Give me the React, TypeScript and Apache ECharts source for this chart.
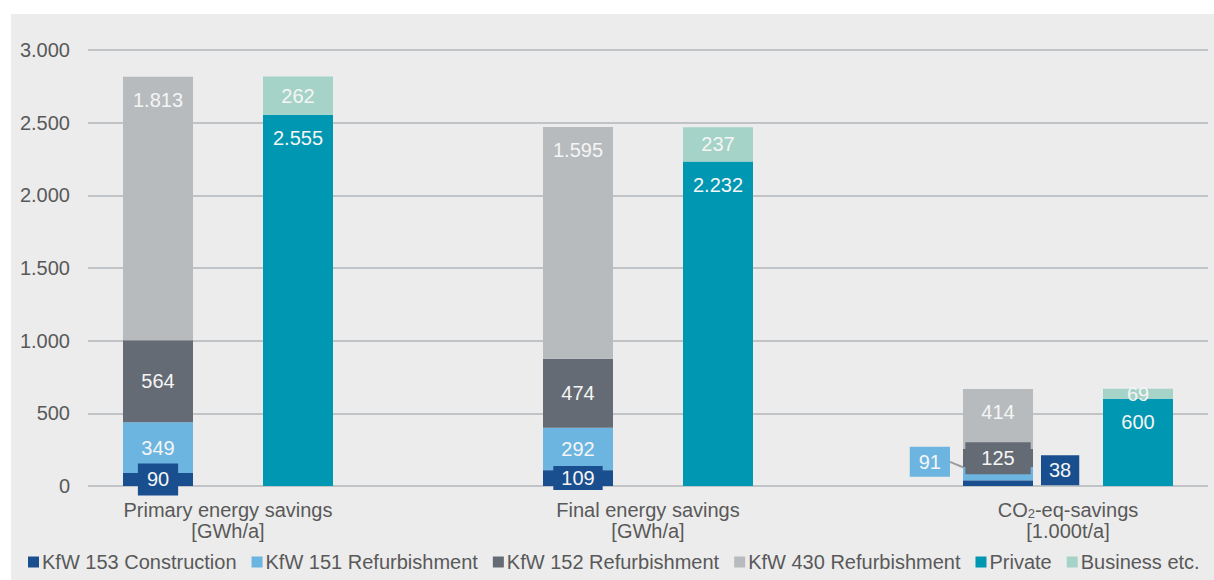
import React, { useEffect, useRef } from "react";
import * as echarts from "echarts";

const categories = ["Primary energy savings\n[GWh/a]", "Final energy savings\n[GWh/a]", "CO2-eq-savings\n[1.000t/a]"];
const seriesNames = ["KfW 153 Construction", "KfW 151 Refurbishment", "KfW 152 Refurbishment", "KfW 430 Refurbishment", "Private", "Business etc."];
const kfw153 = [90, 109, 38];
const kfw151 = [349, 292, 91];
const kfw152 = [564, 474, 125];
const kfw430 = [1813, 1595, 414];
const privateVals = [2555, 2232, 600];
const businessVals = [262, 237, 69];
const yTicks = [0, 500, 1000, 1500, 2000, 2500, 3000];

const colors = ["#1a4f8f", "#6db5e1", "#646b74", "#b7bbbe", "#0097b2", "#a5d3c7"];
const FONT = "'Liberation Sans', Arial, sans-serif";
const TEXT = "#595959";

// 8 slots: each category has slot A (KfW stack), slot B (Private/Business), and a gap slot
const SLOT_A = [0, 3, 6];
const SLOT_B = [1, 4, 7];
const slots = ["s0", "s1", "s2", "s3", "s4", "s5", "s6", "s7"];

function fmt(v: number): string {
  return String(Math.round(v)).replace(/\B(?=(\d{3})+(?!\d))/g, ".");
}

function place(values: any[], slotIdx: number[]): any[] {
  const arr: any[] = slots.map(() => "-");
  values.forEach((v, i) => {
    arr[slotIdx[i]] = v;
  });
  return arr;
}

export default function App() {
  const ref = useRef<HTMLDivElement>(null);

  useEffect(() => {
    if (!ref.current) return;
    const chart = echarts.init(ref.current, null, { renderer: "svg" });

    const baseLabel = {
      show: true,
      color: "#f5f5f5",
      fontSize: 20,
      fontFamily: FONT,
      formatter: (p: any) => fmt(p.value),
    };

    const k153 = place(
      kfw153.map((v, i) =>
        i === 2
          ? {
              value: v,
              label: {
                position: "right",
                distance: 8,
                offset: [0, -13],
                backgroundColor: colors[0],
                padding: [6, 8, 4, 8],
              },
            }
          : { value: v, label: { padding: i === 0 ? [7, 9, 5, 9] : [3, 8, 1, 8] } }
      ),
      SLOT_A
    );
    const k151 = place(
      kfw151.map((v, i) =>
        i === 2
          ? {
              value: v,
              label: {
                position: "left",
                distance: 13,
                backgroundColor: colors[1],
                padding: [6, 9, 4, 9],
              },
              labelLine: { show: true, lineStyle: { color: "#9a9ea2", width: 2 } },
            }
          : { value: v, labelLine: { show: false } }
      ),
      SLOT_A
    );
    const k152 = place(
      kfw152.map((v, i) =>
        i === 2
          ? {
              value: v,
              label: { backgroundColor: colors[2], padding: [7, 16, 5, 16] },
            }
          : v
      ),
      SLOT_A
    );

    const option: any = {
      animation: false,
      backgroundColor: "#ececec",
      textStyle: { fontFamily: FONT },
      grid: { left: 77, right: 6, top: 36, bottom: 94, containLabel: false },
      legend: {
        data: seriesNames,
        left: 12,
        top: 533,
        itemWidth: 11,
        itemHeight: 11,
        itemGap: 15,
        icon: "rect",
        textStyle: { color: TEXT, fontSize: 20, fontFamily: FONT, padding: [0, 0, 0, -2] },
      },
      xAxis: [
        {
          type: "category",
          data: slots,
          show: false,
        },
        {
          type: "value",
          position: "bottom",
          min: 0,
          max: 8,
          interval: 1,
          axisLine: { show: false },
          axisTick: { show: false },
          splitLine: { show: false },
          axisLabel: {
            margin: 13,
            color: TEXT,
            fontSize: 20,
            lineHeight: 21,
            fontFamily: FONT,
            formatter: (v: number) => {
              const idx = [1, 4, 7].indexOf(Math.round(v));
              if (idx < 0) return "";
              const name = categories[idx];
              if (name.startsWith("CO2")) {
                const parts = name.split("\n");
                return "{t|CO}{s|2}{t|" + parts[0].slice(3) + "}\n{t|" + parts[1] + "}";
              }
              return name;
            },
            rich: {
              t: { fontSize: 20, color: TEXT, fontFamily: FONT, lineHeight: 21 },
              s: { fontSize: 13, color: TEXT, fontFamily: FONT, verticalAlign: "bottom", lineHeight: 21, padding: [8, 0, 0, 0] },
            },
          },
        },
      ],
      yAxis: {
        type: "value",
        min: yTicks[0],
        max: yTicks[yTicks.length - 1],
        interval: yTicks[1] - yTicks[0],
        axisLine: { show: false },
        axisTick: { show: false },
        splitLine: { lineStyle: { color: "#c0c4c7", width: 2 } },
        axisLabel: {
          color: TEXT,
          fontSize: 20,
          fontFamily: FONT,
          margin: 18,
          formatter: (v: number) => fmt(v),
        },
      },
      series: [
        {
          name: seriesNames[0],
          type: "bar",
          stack: "all",
          barWidth: 70,
          itemStyle: { color: colors[0] },
          label: { ...baseLabel, position: "inside", backgroundColor: colors[0] },
          data: k153,
          z: 3,
        },
        {
          name: seriesNames[1],
          type: "bar",
          stack: "all",
          barWidth: 70,
          itemStyle: { color: colors[1] },
          label: { ...baseLabel, position: "inside" },
          labelLine: { show: true, lineStyle: { color: "#9a9ea2", width: 2 } },
          labelLayout: (p: any) => (p.dataIndex === SLOT_A[2] ? { dy: -12 } : {}),
          data: k151,
          z: 2,
        },
        {
          name: seriesNames[2],
          type: "bar",
          stack: "all",
          barWidth: 70,
          itemStyle: { color: colors[2] },
          label: { ...baseLabel, position: "inside" },
          data: k152,
          z: 2,
        },
        {
          name: seriesNames[3],
          type: "bar",
          stack: "all",
          barWidth: 70,
          itemStyle: { color: colors[3] },
          label: { ...baseLabel, position: "insideTop", distance: 13 },
          data: place(kfw430, SLOT_A),
          z: 2,
        },
        {
          name: seriesNames[4],
          type: "bar",
          stack: "all",
          barWidth: 70,
          itemStyle: { color: colors[4] },
          label: { ...baseLabel, position: "insideTop", distance: 13 },
          data: place(privateVals, SLOT_B),
          z: 2,
        },
        {
          name: seriesNames[5],
          type: "bar",
          stack: "all",
          barWidth: 70,
          itemStyle: { color: colors[5] },
          label: { ...baseLabel, position: "inside" },
          data: place(businessVals, SLOT_B),
          z: 2,
        },
      ],
    };

    chart.setOption(option);
    return () => chart.dispose();
  }, []);

  return (
    <div
      ref={ref}
      style={{ position: "absolute", left: 11, top: 14, width: 1203, height: 566 }}
    />
  );
}
